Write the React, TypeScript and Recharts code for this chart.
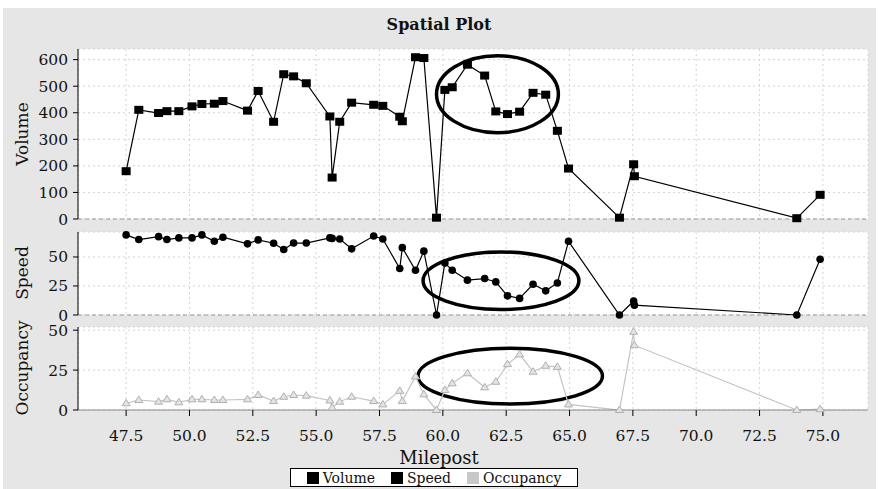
import React from 'react'
import {
  CartesianGrid,
  Line,
  LineChart,
  ReferenceArea,
  ReferenceLine,
  XAxis,
  YAxis
} from 'recharts'

const mileposts = [47.5, 48.0, 48.78, 49.11, 49.58, 50.1, 50.49, 50.98, 51.32, 52.29, 52.71, 53.32, 53.72, 54.11, 54.61, 55.54, 55.63, 55.93, 56.4, 57.27, 57.63, 58.3, 58.4, 58.92, 59.25, 59.75, 60.08, 60.37, 60.97, 61.65, 62.09, 62.55, 63.03, 63.56, 64.06, 64.52, 64.96, 66.97, 67.53, 67.56, 73.97, 74.89]
const volume = [180, 411, 399, 406, 406, 424, 433, 434, 444, 408, 482, 366, 545, 537, 511, 386, 156, 366, 438, 430, 426, 385, 368, 609, 606, 5, 486, 496, 581, 540, 405, 395, 404, 475, 468, 332, 190, 5, 206, 161, 3, 91]
const speed = [69, 65, 67.5, 65, 66.4, 66.4, 69, 63.5, 67, 61.3, 64.7, 61.8, 56.4, 62, 62, 66.4, 66, 65.5, 57, 68, 65.5, 40, 58, 38.5, 55, 0, 44.7, 38.5, 30, 31.4, 28.5, 16.5, 14.3, 26.5, 20.8, 27.6, 63.5, 0, 12, 8.5, 0, 48]
const occupancy = [4.2, 6.25, 5.2, 6.7, 4.8, 6.7, 6.7, 6.25, 6.25, 6.7, 9.4, 5.6, 8.3, 9.4, 9, 6, 1.5, 5.2, 8.3, 5.6, 3.5, 12, 5.6, 21, 9.8, 0, 12.5, 16.7, 23, 14.2, 17.7, 28.75, 34.8, 24, 27.7, 27, 3.5, 0, 49, 40.6, 0, 0.5]

const xTicks = [47.5, 50, 52.5, 55, 57.5, 60, 62.5, 65, 67.5, 70, 72.5, 75]
const volumeTicks = [0, 100, 200, 300, 400, 500, 600]
const speedTicks = [0, 25, 50]
const occupancyTicks = [0, 25, 50]

// hand-drawn circles on the reference: [x1, x2, y1, y2] in data units
const volumeCircle = [59.75, 64.56, 615, 325]
const speedCircle = [59.22, 65.37, 54.3, 4.7]
const occupancyCircle = [59.02, 66.3, 38.75, 3.75]

const data = mileposts.map((mp, i) => ({
  mp,
  volume: volume[i],
  speed: speed[i],
  occupancy: occupancy[i]
}))

const FONT = '"DejaVu Serif", serif'
const W = 878
const H = 489
const xDomain = [45.6, 76.78]
const tickStyle = { fontFamily: FONT, fontSize: 15.5, fill: '#111' }

const SquareDot = (props: any) => {
  const { cx, cy, index } = props
  if (cx == null || cy == null) return <g key={index} />
  return <rect key={index} x={cx - 4.5} y={cy - 4} width={9} height={8} fill='#000' />
}

const RoundDot = (props: any) => {
  const { cx, cy, index } = props
  if (cx == null || cy == null) return <g key={index} />
  return <circle key={index} cx={cx} cy={cy} r={3.8} fill='#000' />
}

const TriDot = (props: any) => {
  const { cx, cy, index } = props
  if (cx == null || cy == null) return <g key={index} />
  return (
    <path
      key={index}
      d={`M${cx},${cy - 4} L${cx + 4},${cy + 2.5} L${cx - 4},${cy + 2.5} Z`}
      fill='#e4e4e4'
      stroke='#b0b0b0'
      strokeWidth={1}
    />
  )
}

const Ellipse = (props: any) => {
  const { x, y, width, height } = props
  return (
    <ellipse
      cx={x + width / 2}
      cy={y + height / 2}
      rx={Math.abs(width) / 2}
      ry={Math.abs(height) / 2}
      fill='none'
      stroke='#000'
      strokeWidth={3.5}
    />
  )
}

const chartStyle: React.CSSProperties = { position: 'absolute', left: 0, top: 0 }

interface PanelProps {
  dataKey: string
  top: number
  bottom: number
  domain: number[]
  ticks: number[]
  circle: number[]
  color: string
  dot: any
  showX?: boolean
}

const Panel: React.FC<PanelProps> = ({ dataKey, top, bottom, domain, ticks, circle, color, dot, showX }) => (
  <div style={chartStyle}>
    <LineChart
      width={W}
      height={H}
      data={data}
      margin={{ top, right: 10, bottom: showX ? bottom - 30 : bottom, left: 0 }}
    >
      <CartesianGrid stroke='#d4d4d4' strokeDasharray='2 3' fill='#fff' />
      <XAxis
        type='number'
        dataKey='mp'
        domain={xDomain}
        ticks={xTicks}
        hide={!showX}
        height={showX ? 30 : 0}
        tickFormatter={(v: number) => v.toFixed(1)}
        tick={tickStyle}
        tickSize={6}
        tickMargin={14}
        stroke='#888'
        tickLine={{ stroke: '#000' }}
      />
      <YAxis
        type='number'
        domain={domain}
        ticks={ticks}
        width={78}
        tick={tickStyle}
        tickSize={5}
        tickMargin={5}
        stroke='#000'
      />
      {!showX && <ReferenceLine y={0} stroke='#999' strokeDasharray='4 3' />}
      <Line
        type='linear'
        dataKey={dataKey}
        stroke={color}
        strokeWidth={1.2}
        dot={dot}
        activeDot={false}
        isAnimationActive={false}
      />
      <ReferenceArea
        x1={circle[0]}
        x2={circle[1]}
        y1={circle[2]}
        y2={circle[3]}
        shape={Ellipse}
      />
    </LineChart>
  </div>
)

const yLabel = (cy: number): React.CSSProperties => ({
  position: 'absolute',
  left: 22,
  top: cy,
  transform: 'translate(-50%, -50%) rotate(-90deg)',
  fontFamily: FONT,
  fontSize: 17,
  lineHeight: '18px',
  whiteSpace: 'nowrap',
  color: '#111'
})

const LegendItem = ({ color, label }: { color: string; label: string }) => (
  <span style={{ display: 'inline-flex', alignItems: 'center', margin: '0 8px' }}>
    <span style={{ width: 12, height: 12, background: color, marginRight: 4, display: 'inline-block' }} />
    {label}
  </span>
)

export default function App() {
  return (
    <div style={{ position: 'absolute', left: 0, top: 0, width: W, height: H, background: '#fff' }}>
      <div style={{ position: 'absolute', left: 3, top: 8, right: 2, bottom: 0, background: '#e6e6e6' }} />
      <div
        style={{
          position: 'absolute',
          left: 0,
          width: W,
          top: 15,
          textAlign: 'center',
          fontFamily: FONT,
          fontWeight: 'bold',
          fontSize: 16,
          color: '#111'
        }}
      >
        Spatial Plot
      </div>
      <Panel dataKey='volume' top={49} bottom={270} domain={[0, 640]} ticks={volumeTicks} circle={volumeCircle} color='#000' dot={SquareDot} />
      <Panel dataKey='speed' top={232} bottom={174} domain={[0, 71.5]} ticks={speedTicks} circle={speedCircle} color='#000' dot={RoundDot} />
      <Panel dataKey='occupancy' top={327} bottom={79} domain={[0, 52]} ticks={occupancyTicks} circle={occupancyCircle} color='#c4c4c4' dot={TriDot} showX />
      <div style={yLabel(134)}>Volume</div>
      <div style={yLabel(273)}>Speed</div>
      <div style={yLabel(368)}>Occupancy</div>
      <div
        style={{
          position: 'absolute',
          left: 0,
          width: W,
          top: 447,
          textAlign: 'center',
          fontFamily: FONT,
          fontSize: 18,
          color: '#111'
        }}
      >
        Milepost
      </div>
      <div
        style={{
          position: 'absolute',
          left: 290,
          top: 468,
          width: 286,
          height: 17,
          border: '1px solid #000',
          background: '#fff',
          display: 'flex',
          alignItems: 'center',
          justifyContent: 'center',
          fontFamily: FONT,
          fontSize: 14,
          color: '#111'
        }}
      >
        <LegendItem color='#000' label='Volume' />
        <LegendItem color='#000' label='Speed' />
        <LegendItem color='#c8c8c8' label='Occupancy' />
      </div>
    </div>
  )
}
